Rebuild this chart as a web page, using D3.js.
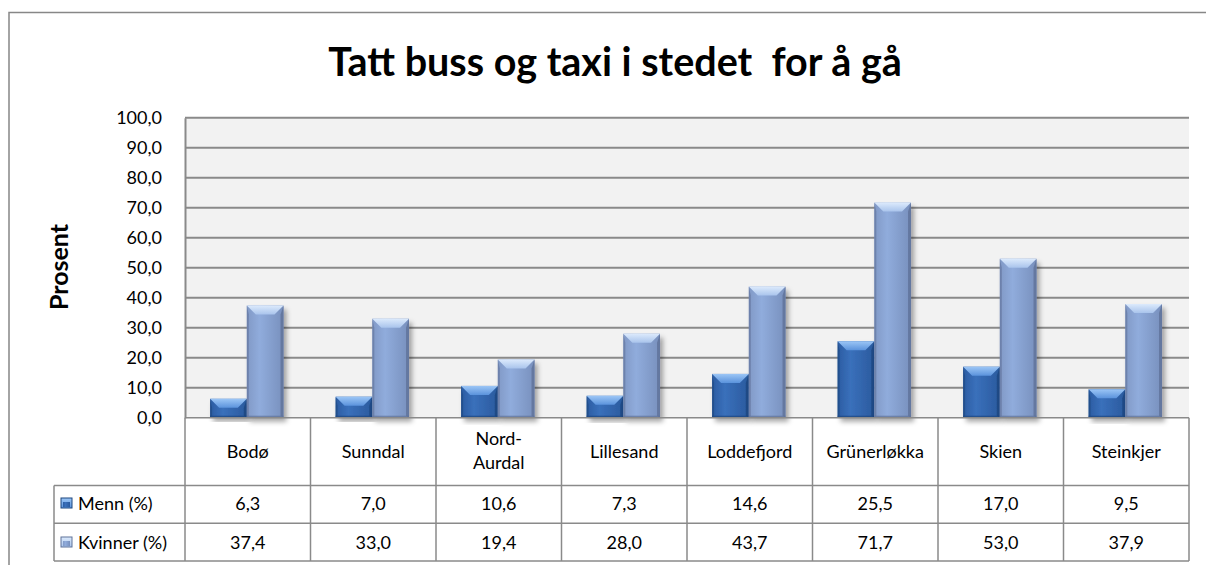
<!DOCTYPE html>
<html>
<head>
<meta charset="utf-8">
<script src="https://cdn.jsdelivr.net/npm/d3@7"></script>
<style>
  body { margin: 0; background: #fff; }
  svg text { font-family: Lato, "Open Sans", sans-serif; fill: #000; }
</style>
</head>
<body>
<svg id="chart"></svg>
<script>
// data
const categories = ["Bodø", "Sunndal", "Nord-\nAurdal", "Lillesand", "Loddefjord", "Grünerløkka", "Skien", "Steinkjer"];
const menn = [6.3, 7.0, 10.6, 7.3, 14.6, 25.5, 17.0, 9.5];
const kvinner = [37.4, 33.0, 19.4, 28.0, 43.7, 71.7, 53.0, 37.9];
const seriesNames = ["Menn (%)", "Kvinner (%)"];
const yTicks = [0, 10, 20, 30, 40, 50, 60, 70, 80, 90, 100];

var W = 1206, H = 565;
var svg = d3.select('svg#chart').attr('width', W).attr('height', H);

var plotLeft = 185, plotRight = 1189, plotTop = 117.7, plotBottom = 417.7;
var rowCat = 485.5, rowMenn = 523.3, rowEnd = 561;
var tableLeft = 54;
var gridColor = '#8a8a8a';

var fmt = v => d3.format('.1f')(v).replace('.', ',');

// gradients + shadow
var defs = svg.append('defs');
function grad(id, stops, vertical){
    var g = defs.append('linearGradient').attr('id', id)
        .attr('x1', 0).attr('y1', 0).attr('x2', vertical ? 0 : 1).attr('y2', vertical ? 1 : 0);
    stops.forEach(s => g.append('stop').attr('offset', s[0]).attr('stop-color', s[1]));
}
grad('mBody', [[0, '#2b5ca2'], [0.35, '#3a70bb'], [1, '#2a5a9e']]);
grad('mTop', [[0, '#9cc6f6'], [1, '#5b93dc']], true);
grad('kBody', [[0, '#8199c6'], [0.35, '#90acdc'], [1, '#7890bd']]);
grad('kTop', [[0, '#dceafc'], [1, '#a9c4ec']], true);
var sh = defs.append('filter').attr('id', 'shadow')
    .attr('x', '-20%').attr('y', '-10%').attr('width', '150%').attr('height', '130%');
sh.append('feDropShadow').attr('dx', 3).attr('dy', 4).attr('stdDeviation', 2.5)
    .attr('flood-color', '#000').attr('flood-opacity', 0.35);

// outer frame
svg.append('rect')
    .attr('x', 9).attr('y', 12.5).attr('width', W).attr('height', H)
    .attr('fill', 'none').attr('stroke', '#878787').attr('stroke-width', 1.5);

// title
svg.append('text')
    .attr('x', 615).attr('y', 76)
    .attr('text-anchor', 'middle')
    .style('font-size', '39.5px').style('font-weight', 'bold')
    .style('white-space', 'pre')
    .text('Tatt buss og taxi i stedet  for å gå');

// scales
var x0 = d3.scaleBand().domain(d3.range(categories.length)).range([plotLeft, plotRight]).padding(0);
var x1 = d3.scaleBand().domain([0, 1])
    .range([x0.bandwidth() * 0.2, x0.bandwidth() * 0.785]).padding(0);
var y = d3.scaleLinear().domain([0, 100]).range([plotBottom, plotTop]);

// plot background
svg.append('rect')
    .attr('x', plotLeft).attr('y', plotTop).attr('width', plotRight - plotLeft).attr('height', plotBottom - plotTop)
    .attr('fill', '#f2f2f2');

// gridlines
svg.append('g').selectAll('line').data(yTicks.slice(1)).enter().append('line')
    .attr('x1', plotLeft).attr('x2', plotRight)
    .attr('y1', d => y(d)).attr('y2', d => y(d))
    .attr('stroke', gridColor).attr('stroke-width', 2);

// y axis
var yAxis = svg.append('g')
    .attr('transform', 'translate(' + plotLeft + ',0)')
    .call(d3.axisLeft(y).tickValues(yTicks).tickSize(0).tickPadding(23).tickFormat(fmt));
yAxis.select('.domain').attr('stroke', gridColor).attr('stroke-width', 2);
yAxis.selectAll('text').style('font-size', '18px').style('font-family', 'Lato, sans-serif').attr('fill', '#000');

svg.append('text')
    .attr('transform', 'translate(68,267) rotate(-90)')
    .attr('text-anchor', 'middle')
    .style('font-size', '25px').style('font-weight', 'bold')
    .text('Prosent');

// bars
var bodies = ['url(#mBody)', 'url(#kBody)'];
var tops = ['url(#mTop)', 'url(#kTop)'];
var edges = ['#1d467f', '#5f7299'];
var values = [menn, kvinner];
var bev = 9;

var barData = [];
categories.forEach((c, i) => {
    [0, 1].forEach(s => barData.push({i: i, s: s, v: values[s][i]}));
});

var bars = svg.append('g').selectAll('g.bar').data(barData).enter().append('g')
    .attr('class', 'bar')
    .attr('transform', d => 'translate(' + (x0(d.i) + x1(d.s)) + ',' + y(d.v) + ')');

bars.each(function(d){
    var g = d3.select(this);
    var w = x1.bandwidth(), h = plotBottom - y(d.v);
    var b = Math.min(bev, h / 2);
    g.append('rect').attr('width', w).attr('height', h)
        .attr('fill', bodies[d.s]).attr('filter', 'url(#shadow)');
    // side edges
    g.append('path')
        .attr('d', 'M0,0 L' + 2 + ',' + b + ' L2,' + (h - 2) + ' L0,' + h + 'Z')
        .attr('fill', edges[d.s]).attr('opacity', 0.6);
    g.append('path')
        .attr('d', 'M' + w + ',0 L' + (w - 3) + ',' + b + ' L' + (w - 3) + ',' + (h - 2) + ' L' + w + ',' + h + 'Z')
        .attr('fill', edges[d.s]).attr('opacity', 0.8);
    g.append('rect').attr('y', h - 2).attr('width', w).attr('height', 2)
        .attr('fill', edges[d.s]).attr('opacity', 0.7);
    // top bevel
    g.append('path')
        .attr('d', 'M0,0 L' + w + ',0 L' + (w - b) + ',' + b + ' L' + b + ',' + b + 'Z')
        .attr('fill', tops[d.s]);
});

// data table
var table = svg.append('g').attr('stroke', gridColor).attr('stroke-width', 1.5);
[plotBottom, rowCat, rowMenn, rowEnd].forEach((yy, k) => {
    table.append('line')
        .attr('x1', k === 0 ? plotLeft : tableLeft).attr('x2', plotRight)
        .attr('y1', yy).attr('y2', yy);
});
d3.range(categories.length + 1).forEach(i => {
    var xx = i < categories.length ? x0(i) : plotRight;
    table.append('line').attr('x1', xx).attr('x2', xx).attr('y1', plotBottom).attr('y2', rowEnd);
});
table.append('line').attr('x1', tableLeft).attr('x2', tableLeft).attr('y1', rowCat).attr('y2', rowEnd);

var catLabels = svg.append('g').selectAll('text').data(categories).enter().append('text')
    .attr('text-anchor', 'middle')
    .attr('x', (d, i) => x0(i) + x0.bandwidth() / 2)
    .attr('y', d => d.includes('\n') ? 445 : 458)
    .style('font-size', '18px');
catLabels.each(function(d){
    var t = d3.select(this);
    d.split('\n').forEach((line, k) => {
        t.append('tspan').attr('x', t.attr('x')).attr('dy', k === 0 ? 0 : 24).text(line);
    });
});

var rowY = [510, 549];
values.forEach((vals, s) => {
    svg.append('g').selectAll('text').data(vals).enter().append('text')
        .attr('text-anchor', 'middle')
        .attr('x', (d, i) => x0(i) + x0.bandwidth() / 2)
        .attr('y', rowY[s])
        .style('font-size', '18px')
        .text(fmt);
    svg.append('rect')
        .attr('x', 61).attr('y', rowY[s] - 12).attr('width', 11).attr('height', 10)
        .attr('fill', tops[s]).attr('stroke', edges[s]).attr('stroke-width', 1);
    svg.append('rect')
        .attr('x', 63).attr('y', rowY[s] - 8).attr('width', 7).attr('height', 5)
        .attr('fill', bodies[s]);
    svg.append('text')
        .attr('x', 78).attr('y', rowY[s])
        .style('font-size', '18px')
        .text(seriesNames[s]);
});
</script>
</body>
</html>
